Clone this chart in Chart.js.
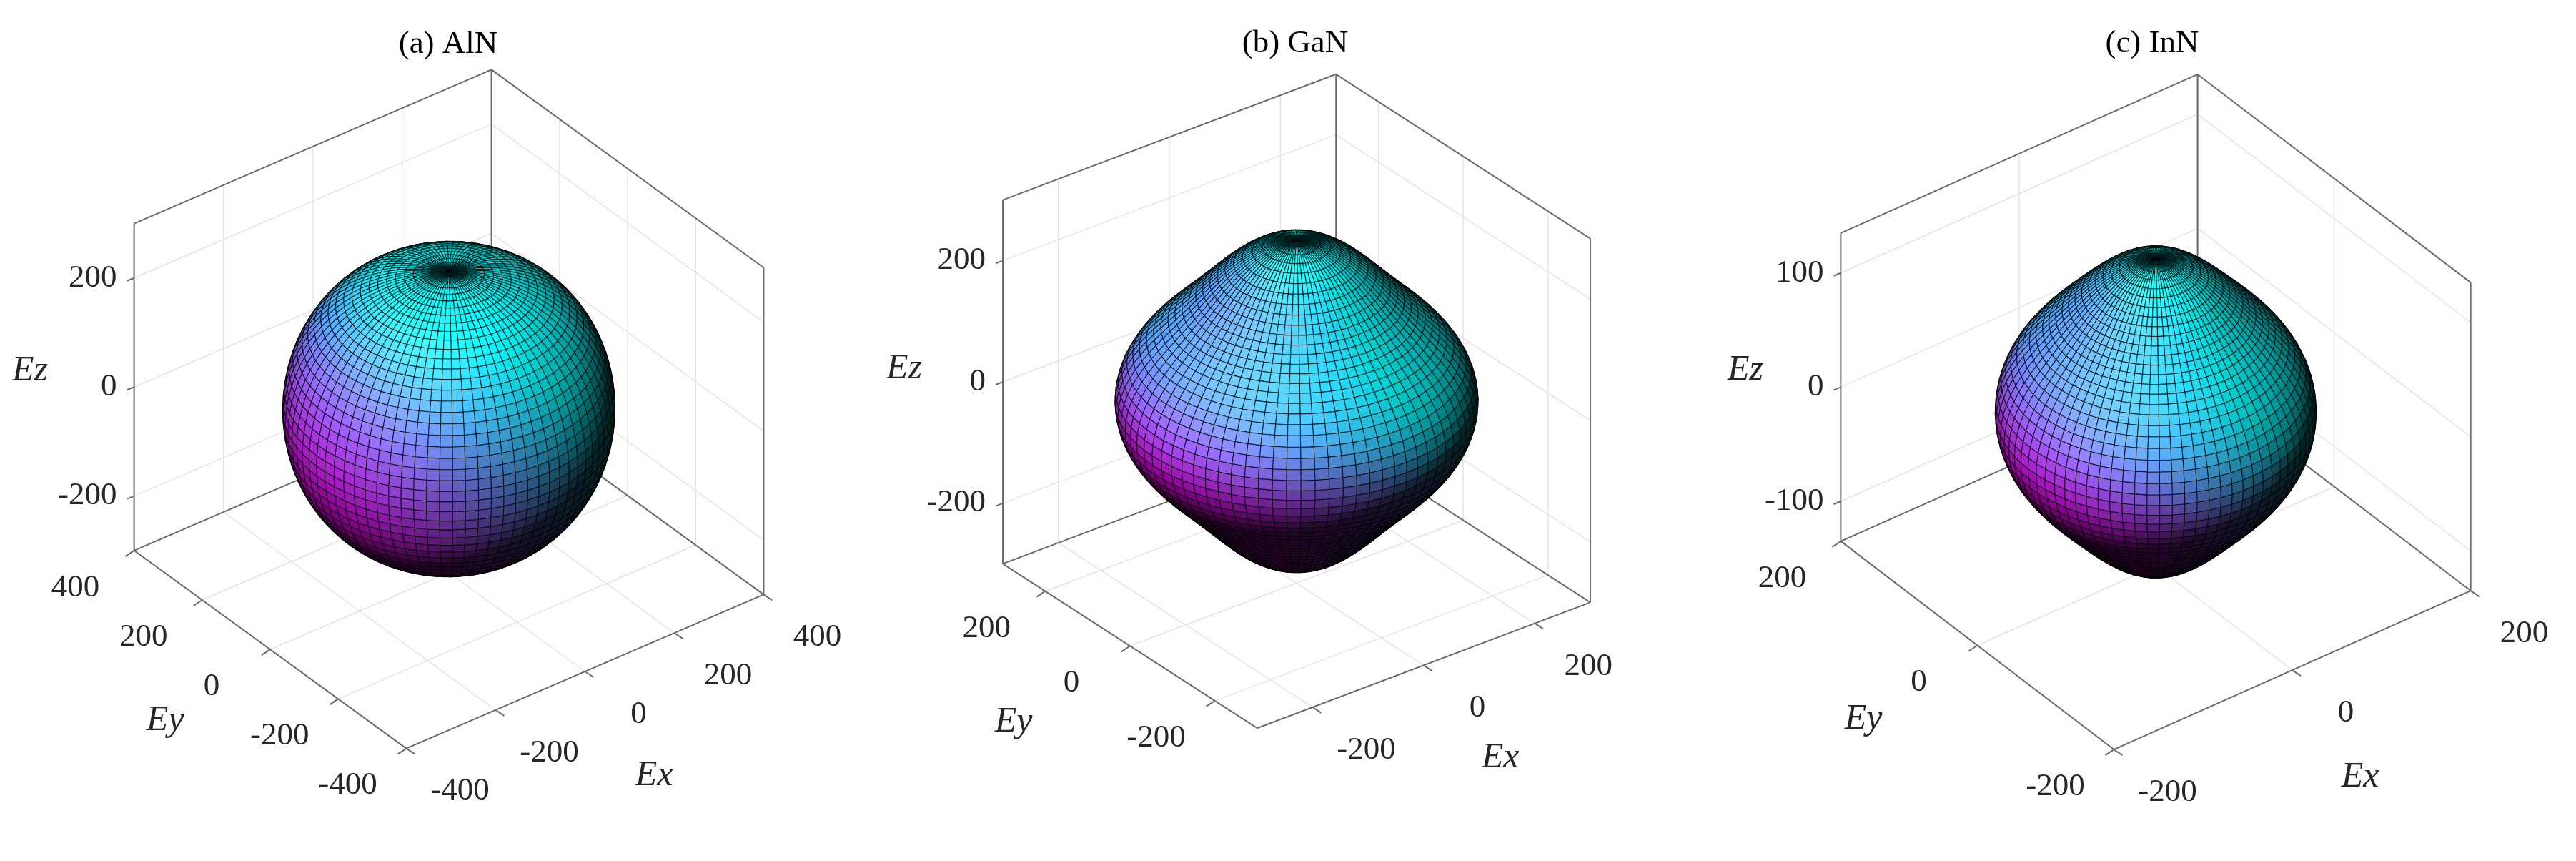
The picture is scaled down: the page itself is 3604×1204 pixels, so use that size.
<!DOCTYPE html>
<html>
<head>
<meta charset="utf-8">
<script src="https://cdn.jsdelivr.net/npm/chart.js@4/dist/chart.umd.min.js"></script>
<style>
  body { margin: 0; background: #fff; }
  .row { display: flex; width: 3604px; height: 1204px; }
  .panel { position: relative; height: 1204px; }
</style>
</head>
<body>
<div class="row">
  <div class="panel" style="width:1200px"><canvas id="c0" width="1200" height="1204"></canvas></div>
  <div class="panel" style="width:1200px"><canvas id="c1" width="1200" height="1204"></canvas></div>
  <div class="panel" style="width:1204px"><canvas id="c2" width="1204" height="1204"></canvas></div>
</div>
<script>
const materials = ['AlN', 'GaN', 'InN']
const titles = ['(a) AlN', '(b) GaN', '(c) InN']
const s11 = [3.378, 3.846, 6.993]
const s33 = [3.968, 3.774, 7.463]
const sMix = [7.199, 10.158, 18.331] // 2*S13 + S44

// limiti e tick degli assi
const xyLimits = [400, 300, 200]
const zLimits = [300, 300, 135]
const xyTicks = [[-400, -200, 0, 200, 400], [-200, 0, 200], [-200, 0, 200]]
const zTicks = [[-200, 0, 200], [-200, 0, 200], [-100, 0, 100]]

// geometria della vista (MATLAB default az -37.5, el 30) per ogni pannello
const views = [
  { c: [628, 572], ux: [0.625, -0.269], uy: [-0.476, -0.346], uz: 0.762, title: [627, 62], ez: [42, 519], ey: [231, 1008], ex: [915, 1085] },
  { c: [614, 561], ux: [0.777, -0.293], uy: [-0.593, -0.383], uz: 0.848, title: [612, 61], ez: [65, 516], ey: [218, 1010], ex: [899, 1060] },
  { c: [616, 576], ux: [1.248, -0.555], uy: [-0.955, -0.728], uz: 1.596, title: [611, 61], ez: [42, 518], ey: [207, 1006], ex: [902, 1087] },
]

const N_THETA = 50
const N_PHI = 80

// modulo di Young per simmetria esagonale
function youngs(i, th) {
  const s = Math.sin(th), c = Math.cos(th)
  const inv = s11[i] * s ** 4 + s33[i] * c ** 4 + sMix[i] * s * s * c * c
  return 1000 / inv
}

function cool(t) {
  return [t, 1 - t, 1]
}

function norm(v) {
  const l = Math.hypot(v[0], v[1], v[2]) || 1
  return [v[0] / l, v[1] / l, v[2] / l]
}
function cross(a, b) {
  return [a[1] * b[2] - a[2] * b[1], a[2] * b[0] - a[0] * b[2], a[0] * b[1] - a[1] * b[0]]
}
function dot(a, b) { return a[0] * b[0] + a[1] * b[1] + a[2] * b[2] }

const surfacePlugin = {
  id: 'surface3d',
  afterDraw(chart) {
    const i = chart.options.plugins.surface3d.index
    const v = views[i]
    const sx = chart.scales.x, sy = chart.scales.y
    const ctx = chart.ctx
    const L = xyLimits[i], Z = zLimits[i]

    // direzione di vista: nucleo della proiezione
    let d = cross([v.ux[0], v.uy[0], 0], [v.ux[1], v.uy[1], -v.uz])
    if (d[2] < 0) d = [-d[0], -d[1], -d[2]]
    d = norm(d)
    const k = (Math.hypot(v.ux[0], v.ux[1]) + Math.hypot(v.uy[0], v.uy[1]) + v.uz) / 3

    const proj = (x, y, z) => {
      const px = v.c[0] + v.ux[0] * x + v.uy[0] * y
      const py = v.c[1] + v.ux[1] * x + v.uy[1] * y - v.uz * z
      return [sx.getPixelForValue(px), sy.getPixelForValue(py), dot([x, y, z], d) * k]
    }
    const line = (a, b, color, w) => {
      const p = proj(...a), q = proj(...b)
      ctx.beginPath()
      ctx.moveTo(p[0], p[1])
      ctx.lineTo(q[0], q[1])
      ctx.strokeStyle = color
      ctx.lineWidth = w
      ctx.stroke()
    }

    ctx.save()
    // griglia sulle pareti posteriori e sul pavimento
    const grid = '#e4e4e4'
    xyTicks[i].forEach(t => {
      line([L, t, -Z], [L, t, Z], grid, 1.5)
      line([t, L, -Z], [t, L, Z], grid, 1.5)
      line([t, -L, -Z], [t, L, -Z], grid, 1.5)
      line([-L, t, -Z], [L, t, -Z], grid, 1.5)
    })
    zTicks[i].forEach(t => {
      line([L, -L, t], [L, L, t], grid, 1.5)
      line([-L, L, t], [L, L, t], grid, 1.5)
    })

    // spigoli del box
    const edge = '#6b6b6b'
    line([-L, L, -Z], [-L, L, Z], edge, 2)
    line([L, -L, -Z], [L, -L, Z], edge, 2)
    line([L, L, -Z], [L, L, Z], edge, 2)
    line([-L, L, Z], [L, L, Z], edge, 2)
    line([L, -L, Z], [L, L, Z], edge, 2)
    line([-L, L, -Z], [L, L, -Z], edge, 2)
    line([L, -L, -Z], [L, L, -Z], edge, 2)
    line([-L, -L, -Z], [L, -L, -Z], edge, 2)
    line([-L, -L, -Z], [-L, L, -Z], edge, 2)

    // superficie
    const pts = []
    for (let a = 0; a <= N_THETA; a++) {
      const th = Math.PI * a / N_THETA
      const r = youngs(i, th)
      const row = []
      for (let b = 0; b <= N_PHI; b++) {
        const ph = 2 * Math.PI * b / N_PHI
        row.push(proj(r * Math.sin(th) * Math.cos(ph), r * Math.sin(th) * Math.sin(ph), r * Math.cos(th)))
      }
      pts.push(row)
    }
    const Lt = norm([-0.35, 0.45, 0.82])
    const Hh = norm([Lt[0], Lt[1], Lt[2] + 1])
    const A = norm([0.8, 1, 0])
    const quads = []
    for (let a = 0; a < N_THETA; a++) {
      for (let b = 0; b < N_PHI; b++) {
        const q = [pts[a][b], pts[a][b + 1], pts[a + 1][b + 1], pts[a + 1][b]]
        const view = q.map(p => [p[0], -p[1], p[2]])
        const e1 = [view[2][0] - view[0][0], view[2][1] - view[0][1], view[2][2] - view[0][2]]
        const e2 = [view[3][0] - view[1][0], view[3][1] - view[1][1], view[3][2] - view[1][2]]
        let n = norm(cross(e1, e2))
        if (n[2] < 0) n = [-n[0], -n[1], -n[2]]
        const depth = (q[0][2] + q[1][2] + q[2][2] + q[3][2]) / 4
        const t = Math.min(1, Math.max(0, 0.35 - 0.75 * dot(n, A)))
        const bright = 0.15 + 0.95 * Math.max(0, dot(n, Lt))
        const spec = 0.1 * Math.pow(Math.max(0, dot(n, Hh)), 12)
        const col = cool(t).map(c => Math.round(255 * Math.min(1, c * bright + spec)))
        quads.push({ q, depth, col })
      }
    }
    quads.sort((p, q) => p.depth - q.depth)
    ctx.lineWidth = 1.1
    ctx.strokeStyle = 'rgba(0,0,0,0.72)'
    quads.forEach(o => {
      ctx.beginPath()
      ctx.moveTo(o.q[0][0], o.q[0][1])
      for (let j = 1; j < 4; j++) ctx.lineTo(o.q[j][0], o.q[j][1])
      ctx.closePath()
      ctx.fillStyle = `rgb(${o.col[0]},${o.col[1]},${o.col[2]})`
      ctx.fill()
      ctx.stroke()
    })

    // tick e etichette
    ctx.fillStyle = '#262626'
    ctx.font = '45px "Liberation Serif"'
    ctx.textAlign = 'right'
    ctx.textBaseline = 'middle'
    ctx.strokeStyle = edge
    ctx.lineWidth = 2
    zTicks[i].forEach(t => {
      const p = proj(-L, L, t)
      ctx.beginPath(); ctx.moveTo(p[0], p[1]); ctx.lineTo(p[0] - 10, p[1] + 4); ctx.stroke()
      ctx.fillText(String(t), p[0] - 24, p[1])
    })
    ctx.textAlign = 'center'
    xyTicks[i].forEach(t => {
      let p = proj(-L, t, -Z)
      ctx.beginPath(); ctx.moveTo(p[0], p[1]); ctx.lineTo(p[0] - 12, p[1] + 8); ctx.stroke()
      ctx.fillText(String(t), p[0] - 82, p[1] + 52)
      p = proj(t, -L, -Z)
      ctx.beginPath(); ctx.moveTo(p[0], p[1]); ctx.lineTo(p[0] + 12, p[1] + 8); ctx.stroke()
      ctx.fillText(String(t), p[0] + 75, p[1] + 60)
    })
    ctx.fillStyle = '#000'
    ctx.font = '45px "Liberation Serif"'
    ctx.fillText(titles[i], sx.getPixelForValue(v.title[0]), sy.getPixelForValue(v.title[1]))
    ctx.fillStyle = '#262626'
    ctx.font = 'italic 50px "Liberation Serif"'
    ctx.fillText('Ez', sx.getPixelForValue(v.ez[0]), sy.getPixelForValue(v.ez[1]))
    ctx.fillText('Ey', sx.getPixelForValue(v.ey[0]), sy.getPixelForValue(v.ey[1]))
    ctx.fillText('Ex', sx.getPixelForValue(v.ex[0]), sy.getPixelForValue(v.ex[1]))
    ctx.restore()
  },
}

materials.forEach((m, i) => {
  const canvas = document.getElementById('c' + i)
  new Chart(canvas.getContext('2d'), {
    type: 'scatter',
    data: { datasets: [{ label: m, data: [], pointRadius: 0 }] },
    options: {
      responsive: false,
      animation: false,
      devicePixelRatio: 1,
      layout: { padding: 0 },
      events: [],
      scales: {
        x: { type: 'linear', min: 0, max: canvas.width, display: false },
        y: { type: 'linear', min: 0, max: canvas.height, reverse: true, display: false },
      },
      plugins: { legend: { display: false }, tooltip: { enabled: false }, surface3d: { index: i } },
    },
    plugins: [surfacePlugin],
  })
})
</script>
</body>
</html>
